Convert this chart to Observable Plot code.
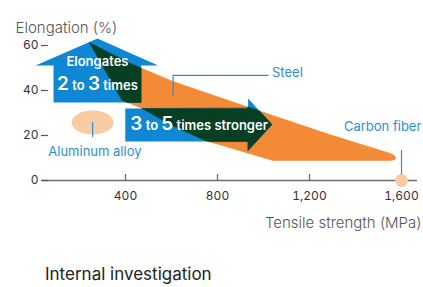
<!DOCTYPE html>
<html><head><meta charset="utf-8">
<script src="https://cdn.jsdelivr.net/npm/d3@7"></script>
<script src="https://cdn.jsdelivr.net/npm/@observablehq/plot@0.6"></script>
<style>
body{margin:0;background:#fff;font-family:Inter,"Noto Sans",sans-serif;}
#chart svg{display:block}
.caption{margin:19px 0 0 45px;font-size:17px;line-height:20px;color:#222;}
</style></head><body>
<div id="chart"></div>
<div class="caption">Internal investigation</div>
<script>
// ---- data ----
const xTicks = [400, 800, 1200, 1600];
const yTicks = [0, 20, 40, 60];
// Steel region outline (tensile strength MPa, elongation %)
const steelX = [243, 421, 607, 1015, 1288, 1540, 1566, 1576, 1570, 1553, 1041, 746, 603, 473, 386];
const steelY = [61.3, 52.0, 44.0, 29.8, 20.4, 12.4, 11.3, 10.1, 9.2, 8.9, 8.9, 17.8, 24.4, 32.0, 35.6];
// "Elongates" up-arrow outline
const upArrowX = [87, 87, 9, 278, 542, 468, 468];
const upArrowY = [34.7, 51.1, 51.1, 63.1, 51.1, 51.1, 34.7];
// "stronger" right-arrow outline
const rightArrowX = [399, 399, 933, 933, 1037, 933, 933];
const rightArrowY = [17.3, 32.0, 32.0, 36.4, 24.9, 13.3, 17.3];
// material points
const materials = ["Aluminum alloy", "Carbon fiber"];
const materialX = [257, 1600];
const materialY = [25.8, 0];
// labels
const labelText = ["Steel", "Carbon fiber", "Aluminum alloy"];
const labelX = [1037, 1518, 267];
const labelY = [47.8, 23.8, 12.9];
const labelAnchor = ["start", "middle", "middle"];
// leader lines
const leaderId = ["steel", "steel", "steel", "carbon", "carbon", "alu", "alu"];
const leaderX = [607, 607, 1020, 1600, 1600, 257, 257];
const leaderY = [37.8, 46.7, 46.7, 13.3, 2.9, 25.8, 19.6];
// arrow texts
const arrowText = ["Elongates", "2 to 3 times", "3 to 5 times stronger"];
const arrowTextX = [278, 278, 421];
const arrowTextY = [52.7, 42.0, 24.2];
const arrowTextAnchor = ["middle", "middle", "start"];

// ---- colors ----
const BLUE = "#0f87d5", ORANGE = "#f38a36", GREEN = "#073f24", PEACH = "#f9cba3", LBLUE = "#2b90d3";

// ---- build rows ----
const zip = (X, Y) => X.map((x, i) => [x, Y[i]]);
const steelPoly = zip(steelX, steelY);
const upPoly = zip(upArrowX, upArrowY);
const rightPoly = zip(rightArrowX, rightArrowY);

function clipConvex(subject, clip) {
  let area = 0;
  for (let i = 0; i < clip.length; i++) {
    const a = clip[i], b = clip[(i + 1) % clip.length];
    area += a[0] * b[1] - b[0] * a[1];
  }
  const s = Math.sign(area);
  let out = subject;
  for (let i = 0; i < clip.length && out.length; i++) {
    const A = clip[i], B = clip[(i + 1) % clip.length];
    const side = p => s * ((B[0] - A[0]) * (p[1] - A[1]) - (B[1] - A[1]) * (p[0] - A[0]));
    const input = out; out = [];
    for (let j = 0; j < input.length; j++) {
      const E = input[j], S = input[(j + input.length - 1) % input.length];
      const se = side(E), ss = side(S);
      const inter = () => { const t = ss / (ss - se); return [S[0] + t * (E[0] - S[0]), S[1] + t * (E[1] - S[1])]; };
      if (se >= 0) { if (ss < 0) out.push(inter()); out.push(E); }
      else if (ss >= 0) out.push(inter());
    }
  }
  return out;
}
const pieces = [
  [upPoly[0], upPoly[1], upPoly[5], upPoly[6]],
  [upPoly[2], upPoly[3], upPoly[4]],
  [rightPoly[0], rightPoly[1], rightPoly[2], rightPoly[6]],
  [rightPoly[3], rightPoly[4], rightPoly[5]]
];
const greenRows = [];
pieces.forEach((p, k) => clipConvex(steelPoly, p).forEach(([x, y]) => greenRows.push({x, y, id: k})));
const steelRows = steelPoly.map(([x, y]) => ({x, y}));
const arrowRows = [
  ...upPoly.map(([x, y]) => ({x, y, id: "up"})),
  ...rightPoly.map(([x, y]) => ({x, y, id: "right"}))
];
const matRows = materials.map((m, i) => ({m, x: materialX[i], y: materialY[i]}));
const labelRows = labelText.map((t, i) => ({t, x: labelX[i], y: labelY[i], a: labelAnchor[i]}));
const leaderRows = leaderId.map((id, i) => ({id, x: leaderX[i], y: leaderY[i]}));
const arrowTextRows = arrowText.map((t, i) => ({t, x: arrowTextX[i], y: arrowTextY[i], a: arrowTextAnchor[i]}));

// ellipse symbol
const K = 0.5523;
const ellipse = {draw(ctx, size) {
  const r = Math.sqrt(size / Math.PI), rx = r * 1.75, ry = r;
  ctx.moveTo(rx, 0);
  ctx.bezierCurveTo(rx, ry * K, rx * K, ry, 0, ry);
  ctx.bezierCurveTo(-rx * K, ry, -rx, ry * K, -rx, 0);
  ctx.bezierCurveTo(-rx, -ry * K, -rx * K, -ry, 0, -ry);
  ctx.bezierCurveTo(rx * K, -ry, rx, -ry * K, rx, 0);
  ctx.closePath();
}};

const W = 423, H = 245, mL = 33, mR = 22, mT = 45, mB = 65;
const frameH = H - mT - mB;

const chart = Plot.plot({
  width: W, height: H, marginLeft: mL, marginRight: mR, marginTop: mT, marginBottom: mB,
  x: {domain: [0, 1600]},
  y: {domain: [0, 60]},
  style: {fontFamily: "Inter, 'Noto Sans', sans-serif", background: "white", overflow: "visible"},
  marks: [
    Plot.line(steelRows, {x: "x", y: "y", fill: ORANGE, stroke: ORANGE, strokeWidth: 0.5, curve: "linear-closed"}),
    Plot.line(arrowRows, {x: "x", y: "y", z: "id", fill: BLUE, stroke: "none", curve: "linear-closed"}),
    Plot.line(greenRows, {x: "x", y: "y", z: "id", fill: GREEN, stroke: GREEN, strokeWidth: 0.6, curve: "linear-closed"}),
    Plot.dot(matRows.slice(0, 1), {x: "x", y: "y", r: 12, symbol: ellipse, fill: PEACH, stroke: "none"}),
    Plot.ruleY([0], {insetLeft: 9, insetRight: -16, stroke: "#6e6e6e", strokeWidth: 1.3}),
    Plot.ruleX(xTicks, {x: d => d, insetTop: frameH - 6, stroke: "#6e6e6e", strokeWidth: 1.3}),
    Plot.axisX(xTicks, {tickSize: 0, tickPadding: 11, tickFormat: d3.format(","), fontSize: 12, fill: "#333", label: null}),
    Plot.axisY(yTicks, {anchor: "left", tickSize: 7, tickPadding: 3, dx: 15, fontSize: 12, fill: "#333", stroke: "#555", strokeWidth: 1.2, label: null}),
    Plot.dot(matRows.slice(1), {x: "x", y: "y", r: 6.5, fill: PEACH, stroke: "none"}),
    Plot.line(leaderRows, {x: "x", y: "y", z: "id", stroke: LBLUE, strokeWidth: 1.2}),
    Plot.text(labelRows.filter(d => d.a === "start"), {x: "x", y: "y", text: "t", textAnchor: "start", fill: LBLUE, fontSize: 13}),
    Plot.text(labelRows.filter(d => d.a === "middle"), {x: "x", y: "y", text: "t", textAnchor: "middle", fill: LBLUE, fontSize: 13}),
    Plot.text(arrowTextRows.slice(0, 1), {x: "x", y: "y", text: "t", textAnchor: "middle", fill: "white", fontSize: 13, fontWeight: 600}),
    Plot.text(arrowTextRows.slice(1, 2), {x: "x", y: "y", text: "t", textAnchor: "middle", fill: "white", fontSize: 13, fontWeight: 600, className: "rich"}),
    Plot.text(arrowTextRows.slice(2), {x: "x", y: "y", text: "t", textAnchor: "start", fill: "white", fontSize: 13, fontWeight: 600, className: "rich"}),
    Plot.text(["Elongation (%)"], {text: d => d, frameAnchor: "top-left", dx: -18, dy: -23, textAnchor: "start", fontSize: 15, fill: "#555", fontWeight: 300}),
    Plot.text(["Tensile strength (MPa)"], {text: d => d, frameAnchor: "bottom-right", dx: 20, dy: 47, textAnchor: "end", fontSize: 15, fill: "#555", fontWeight: 300})
  ]
});

// Enlarge the digits inside the arrow texts (keeps real text)
chart.querySelectorAll(".rich text").forEach(t => {
  const s = t.textContent; t.textContent = "";
  s.split(/(\d)/).filter(p => p.length).forEach(p => {
    const ts = document.createElementNS("http://www.w3.org/2000/svg", "tspan");
    ts.textContent = p;
    if (/\d/.test(p)) ts.setAttribute("font-size", 19);
    t.appendChild(ts);
  });
});
document.getElementById("chart").appendChild(chart);
</script></body></html>
